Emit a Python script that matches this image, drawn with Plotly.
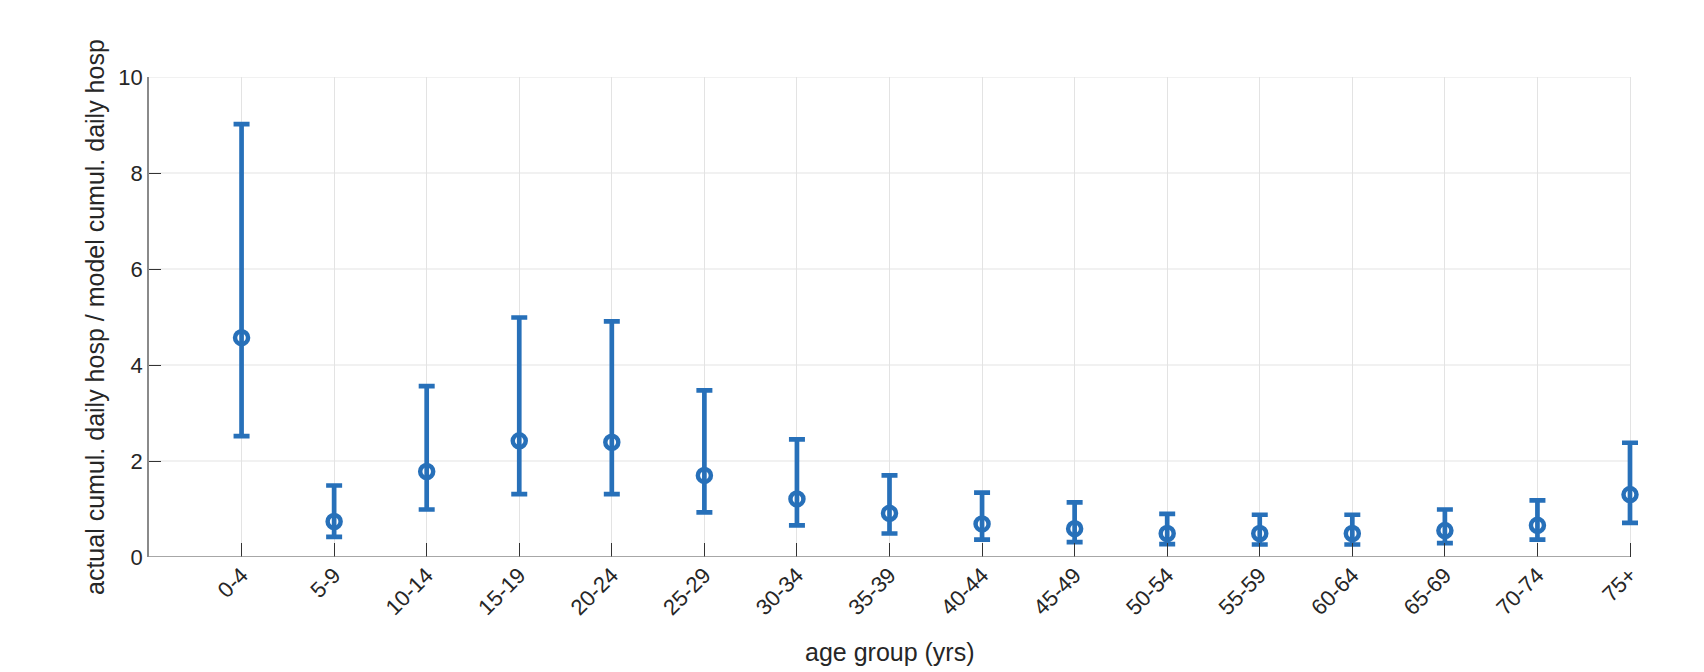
import plotly.graph_objects as go

age_groups = ["0-4", "5-9", "10-14", "15-19", "20-24", "25-29", "30-34", "35-39",
              "40-44", "45-49", "50-54", "55-59", "60-64", "65-69", "70-74", "75+"]
ratio_mid = [4.57, 0.74, 1.78, 2.42, 2.39, 1.70, 1.21, 0.91,
             0.69, 0.59, 0.49, 0.49, 0.49, 0.55, 0.66, 1.30]
ratio_low = [2.52, 0.42, 0.99, 1.31, 1.31, 0.93, 0.66, 0.49,
             0.36, 0.31, 0.27, 0.26, 0.26, 0.29, 0.36, 0.71]
ratio_high = [9.02, 1.49, 3.56, 4.99, 4.91, 3.47, 2.45, 1.70,
              1.34, 1.14, 0.90, 0.88, 0.88, 0.99, 1.18, 2.38]
y_ticks = [0, 2, 4, 6, 8, 10]

positions = list(range(1, len(age_groups) + 1))
err_plus = [h - m for h, m in zip(ratio_high, ratio_mid)]
err_minus = [m - l for m, l in zip(ratio_mid, ratio_low)]

blue = "#2770b9"
text_col = "#262626"
grid_col = "#e3e3e3"
axis_col = "#8a8a8a"
font_family = "Liberation Sans, Arial, Helvetica, sans-serif"

# plot area: 16 category units over 1481 px; a little extra room on the right
# so the last error-bar cap is not clipped
fig_w, fig_h = 1696, 664
m_l, m_t, m_b = 141, 69, 115
unit_px = 1481 / 16
extra_px = 12
m_r = 74 - extra_px
x_max = len(age_groups)
x_range_max = x_max + extra_px / unit_px

fig = go.Figure()
fig.add_trace(go.Scatter(
    x=positions, y=ratio_mid, mode="markers", cliponaxis=False,
    marker=dict(symbol="circle-open", size=13, color=blue, line=dict(width=4.5, color=blue)),
    error_y=dict(type="data", symmetric=False, array=err_plus, arrayminus=err_minus,
                 color=blue, thickness=4.7, width=8),
    showlegend=False, hoverinfo="x+y",
))

fig.update_layout(
    width=fig_w, height=fig_h,
    margin=dict(l=m_l, r=m_r, t=m_t, b=m_b),
    paper_bgcolor="white", plot_bgcolor="white",
    font=dict(family=font_family, size=22, color=text_col),
    xaxis=dict(
        range=[0, x_range_max], tickmode="array", tickvals=positions, ticktext=age_groups,
        tickangle=-45, ticks="inside", ticklen=14, tickwidth=1.2, tickcolor="#333333",
        showgrid=True, gridcolor=grid_col, gridwidth=1.2,
        showline=False, zeroline=False,
        tickfont=dict(size=22, color=text_col), automargin=False,
    ),
    yaxis=dict(
        range=[0, 10], tickmode="array", tickvals=y_ticks,
        ticks="inside", ticklen=12, tickwidth=1.2, tickcolor="#333333",
        showgrid=False,
        showline=True, linecolor=axis_col, linewidth=1.5,
        zeroline=False, tickfont=dict(size=22, color=text_col), automargin=False,
    ),
    annotations=[
        dict(text="age group (yrs)", xref="x domain", yref="paper", x=x_max / x_range_max / 2, y=0,
             xanchor="center", yanchor="middle", yshift=-95, showarrow=False,
             font=dict(size=25, color=text_col, family=font_family)),
        dict(text="actual cumul. daily hosp / model cumul. daily hosp", xref="paper", yref="paper",
             x=0, y=0.5, xanchor="center", yanchor="middle", xshift=-54, textangle=-90,
             showarrow=False, font=dict(size=25, color=text_col, family=font_family)),
    ],
)

# horizontal grid lines, ending at the last category
for yv in y_ticks[1:]:
    fig.add_shape(type="line", xref="x", yref="y", x0=0, x1=x_max, y0=yv, y1=yv,
                  line=dict(color=grid_col, width=1.2), layer="below")
# bottom axis line
fig.add_shape(type="line", xref="x", yref="y", x0=0, x1=x_max, y0=0, y1=0,
              line=dict(color=axis_col, width=1.5), layer="above")

fig.write_html("out.html")
